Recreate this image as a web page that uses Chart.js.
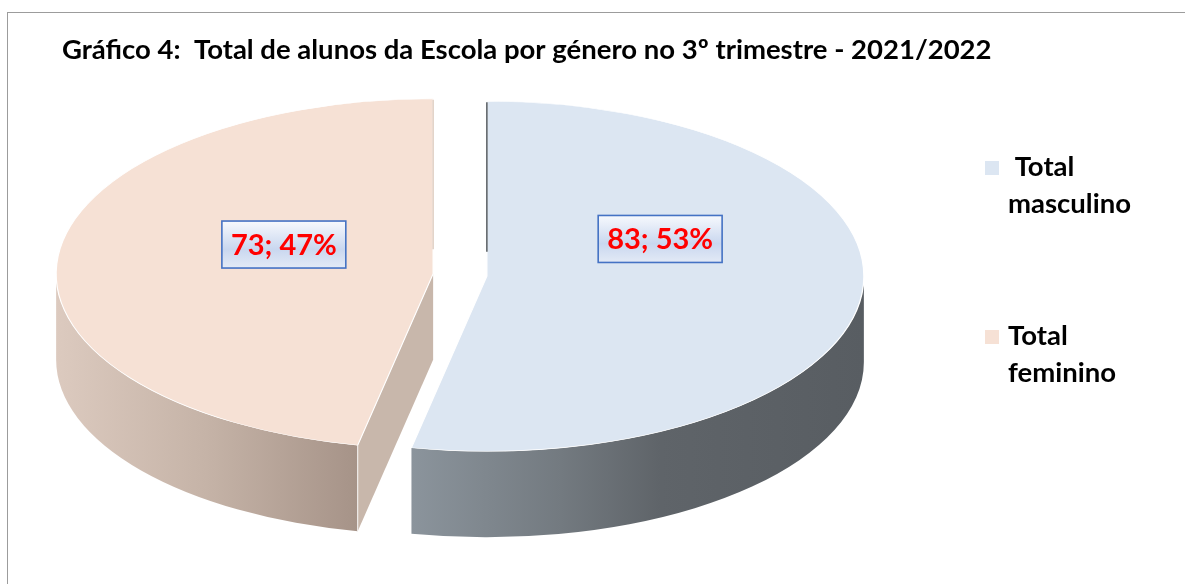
<!DOCTYPE html>
<html>
<head>
<meta charset="utf-8">
<script src="https://cdn.jsdelivr.net/npm/chart.js@4.4.1/dist/chart.umd.min.js"></script>
<style>
  html, body { margin: 0; padding: 0; background: #fff; overflow: hidden; }
  #wrap { position: relative; width: 1185px; height: 584px; }
  #frame { position: absolute; left: 7px; top: 12px; width: 1200px; height: 600px; border: 1.5px solid #9c9c9c; box-sizing: border-box; }
  canvas { position: absolute; left: 0; top: 0; }
</style>
</head>
<body>
<div id="wrap">
  <div id="frame"></div>
  <canvas id="chart" width="1185" height="584"></canvas>
</div>
<script>
const categories = [" Total masculino", "Total feminino"];
const studentCounts = [83, 73];
const chartTitle = "Gráfico 4:  Total de alunos da Escola por género no 3º trimestre - 2021/2022";

// look of the slices: top face, side wall gradient, cut face, edge-on face
const topColors = ["#dce6f2", "#f6e1d5"];
const wallStops = [
  [[0, "#8b949c"], [0.33, "#737a80"], [0.55, "#5f6469"], [1, "#585d62"]],
  [[0, "#dccabf"], [0.5, "#c5b3a7"], [1, "#a69388"]]
];
const cutColors = ["#6a7075", "#c8b7ab"];
const edgeColors = ["#5f656a", "#e2d1c6"];

const pie3d = {
  id: "pie3d",
  beforeDatasetsDraw(chart, args, o) {
    const ctx = chart.ctx;
    const arcs = chart.getDatasetMeta(0).data;
    const R = arcs[0].outerRadius;
    const sx = o.rx / R, sy = o.ry / R;

    const geo = arcs.map(el => {
      const h = (el.startAngle + el.endAngle) / 2;
      return {
        el, h,
        cx: o.x + Math.cos(h) * o.explode,
        cy: o.y + Math.sin(h) * o.explode * o.ry / o.rx
      };
    });
    chart.$pie3d = geo;
    const P = (g, a, dy = 0) => [g.cx + o.rx * Math.cos(a), g.cy + o.ry * Math.sin(a) + dy];

    // side walls and cut faces
    geo.forEach((g, i) => {
      const el = g.el;
      const a1 = Math.max(el.startAngle, 0), a2 = Math.min(el.endAngle, Math.PI);
      if (a2 > a1) {
        const xa = P(g, a1)[0], xb = P(g, a2)[0];
        const grad = ctx.createLinearGradient(Math.min(xa, xb), 0, Math.max(xa, xb), 0);
        wallStops[i].forEach(([s, c]) => grad.addColorStop(s, c));
        ctx.save();
        ctx.beginPath();
        ctx.ellipse(g.cx, g.cy, o.rx, o.ry, 0, a1, a2);
        ctx.ellipse(g.cx, g.cy + o.depth, o.rx, o.ry, 0, a2, a1, true);
        ctx.closePath();
        ctx.fillStyle = grad;
        ctx.fill();
        ctx.restore();
      }
      [[el.startAngle, -1], [el.endAngle, 1]].forEach(([e, s]) => {
        if (s * Math.cos(e) > 0.01) {
          const [px, py] = P(g, e);
          ctx.save();
          ctx.beginPath();
          ctx.moveTo(g.cx, g.cy);
          ctx.lineTo(px, py);
          ctx.lineTo(px, py + o.depth);
          ctx.lineTo(g.cx, g.cy + o.depth);
          ctx.closePath();
          ctx.fillStyle = cutColors[i];
          ctx.fill();
          ctx.strokeStyle = "rgba(255,255,255,0.9)";
          ctx.lineWidth = 1;
          ctx.beginPath();
          ctx.moveTo(px, py);
          ctx.lineTo(px, py + o.depth);
          ctx.stroke();
          ctx.restore();
        }
      });
    });

    // top faces, drawn by the arc elements themselves
    geo.forEach(g => {
      ctx.save();
      ctx.translate(g.cx, g.cy);
      ctx.scale(sx, sy);
      ctx.translate(-g.el.x, -g.el.y);
      g.el.draw(ctx, chart.chartArea);
      ctx.restore();
    });

    // faces seen edge-on
    geo.forEach((g, i) => {
      [g.el.startAngle, g.el.endAngle].forEach(e => {
        if (Math.abs(Math.cos(e)) <= 0.01) {
          const [px, py] = P(g, e);
          ctx.save();
          ctx.strokeStyle = edgeColors[i];
          ctx.lineWidth = 1.6;
          ctx.beginPath();
          ctx.moveTo(px, py + 1);
          ctx.lineTo(px + (g.cx - px) * 0.86, py + (g.cy - py) * 0.86);
          ctx.stroke();
          ctx.restore();
        }
      });
    });
    return false;
  },
  afterDraw(chart, args, o) {
    const ctx = chart.ctx;
    const data = chart.data.datasets[0].data;
    const total = data.reduce((a, b) => a + b, 0);

    // data labels
    (chart.$pie3d || []).forEach((g, i) => {
      const v = data[i];
      const text = `${v}; ${Math.round(v / total * 100)}%`;
      ctx.save();
      ctx.font = "bold 29px Lato";
      const w = ctx.measureText(text).width + 18;
      const hgt = 47;
      const x = g.cx + Math.cos(g.h) * 0.43 * o.rx + 12;
      const y = g.cy - o.ry * (0.19 + 0.23 * Math.sin(g.h));
      const grad = ctx.createLinearGradient(0, y - hgt / 2, 0, y + hgt / 2);
      grad.addColorStop(0, "#f7f9fd");
      grad.addColorStop(0.6, "#c9d7ef");
      grad.addColorStop(1, "#e3eaf6");
      ctx.fillStyle = grad;
      ctx.fillRect(x - w / 2, y - hgt / 2, w, hgt);
      ctx.strokeStyle = "#4472c4";
      ctx.lineWidth = 1.6;
      ctx.strokeRect(x - w / 2, y - hgt / 2, w, hgt);
      ctx.fillStyle = "#ff0000";
      ctx.textAlign = "center";
      ctx.textBaseline = "middle";
      ctx.fillText(text, x, y + 1);
      ctx.restore();
    });

    // legend on the right, wrapped text
    const lg = o.legend;
    chart.data.labels.forEach((label, i) => {
      const base = lg.y + i * lg.gap;
      ctx.save();
      ctx.fillStyle = topColors[i];
      ctx.fillRect(lg.x, base - 15, 14, 14);
      ctx.font = "bold 27.5px Lato";
      ctx.fillStyle = "#000";
      ctx.textBaseline = "alphabetic";
      const words = label.split(/(?<=\S) /);
      words.forEach((wd, k) => ctx.fillText(wd, lg.x + 23, base + k * lg.line));
      ctx.restore();
    });
  }
};

new Chart(document.getElementById("chart"), {
  type: "pie",
  data: {
    labels: categories,
    datasets: [{
      data: studentCounts,
      backgroundColor: topColors,
      borderColor: "#ffffff",
      borderWidth: 0.8
    }]
  },
  options: {
    responsive: false,
    animation: false,
    layout: { padding: { left: 62, right: 150, bottom: 20 } },
    plugins: {
      legend: { display: false },
      tooltip: { enabled: false },
      title: {
        display: true,
        text: chartTitle,
        align: "start",
        color: "#000",
        font: { family: "Lato", size: 27.5, weight: "bold" },
        padding: { top: 34, bottom: 10 }
      },
      pie3d: {
        x: 460, y: 275, rx: 377, ry: 175, depth: 86, explode: 27,
        legend: { x: 985, y: 176, gap: 169, line: 37 }
      }
    }
  },
  plugins: [pie3d]
});
</script>
</body>
</html>
